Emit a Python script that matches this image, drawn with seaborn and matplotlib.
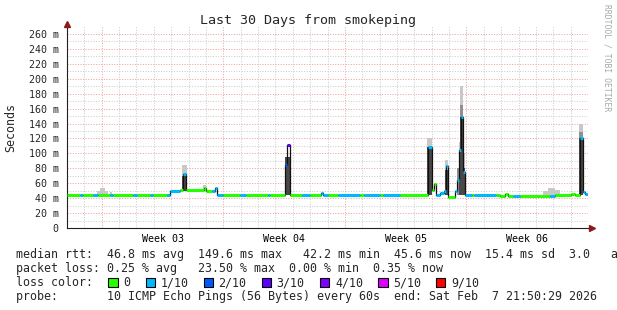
import numpy as np
import pandas as pd
import matplotlib
matplotlib.use("Agg")
import matplotlib.pyplot as plt
from matplotlib.patches import Rectangle
import seaborn as sns

# ---------------- data (x in days since graph start, y in ms) ----------------
seg_start = [0.000, 0.748, 0.921, 1.497, 1.785, 2.476, 2.648, 3.800, 4.030, 4.778,
             4.951, 5.757, 5.958, 6.505, 6.678, 6.851, 7.887, 8.002, 8.348, 8.521,
             8.664, 8.981, 9.960, 10.30, 11.572, 11.687, 12.550, 12.694, 12.867, 13.529,
             13.990, 14.623, 14.738, 15.000, 15.600, 16.870, 17.100, 18.000, 18.200, 19.171,
             20.783, 21.013, 21.128, 21.244, 21.474, 21.704, 21.819, 21.934, 22.337, 22.453,
             22.568, 22.683, 22.798, 22.913, 23.300, 23.420, 24.700, 24.928, 25.216, 25.400,
             25.676, 26.079, 27.806, 28.094, 29.000, 29.250, 29.533, 29.706, 29.821]
seg_rtt = [44, 44, 44, 44, 44, 44, 44, 44, 44, 44,
           44, 44, 50, 51, 73, 51, 53, 50, 50, 54,
           44, 44, 44, 44, 44, 44, 84, 111, 44, 44,
           44, 47, 44, 44, 44, 44, 44, 44, 44, 44,
           108, 51, 59, 44, 47, 50, 83, 42, 50, 64,
           104, 149, 75, 44, 44, 44, 44, 43, 46, 43,
           43, 43, 43, 44, 46, 44, 120, 48, 46]
seg_loss = [0, 1, 0, 1, 0, 1, 0, 1, 0, 1,
            0, 1, 1, 0, 1, 0, 0, 0, 1, 1,
            1, 0, 1, 0, 1, 0, 2, 3, 0, 1,
            0, 1, 1, 0, 1, 0, 1, 0, 1, 0,
            1, 0, 0, 1, 1, 1, 1, 0, 1, 1,
            1, 1, 1, 1, 0, 1, 0, 0, 0, 0,
            1, 0, 1, 0, 0, 0, 1, 1, 1]
END_DAY = 30.0

# smoke (ping spread) patches: shade 0 light, 1 mid, 2 dark
smoke_start = [1.73, 1.90, 2.19, 2.48, 6.62, 6.62, 7.83, 12.55, 20.73, 20.73,
               21.76, 21.76, 22.45, 22.57, 22.57, 22.63, 22.63, 22.63, 22.80, 22.80,
               27.40, 27.70, 28.10, 29.50, 29.50, 29.50]
smoke_end = [1.90, 2.19, 2.36, 2.60, 6.91, 6.91, 8.00, 12.87, 21.01, 21.01,
             21.93, 21.93, 22.57, 22.68, 22.68, 22.80, 22.80, 22.80, 22.91, 22.91,
             27.70, 28.10, 28.40, 29.70, 29.70, 29.70]
smoke_lo = [44, 44, 44, 44, 50, 50, 50, 44, 44, 44,
            44, 44, 44, 44, 44, 44, 44, 44, 44, 44,
            43, 43, 43, 44, 44, 44]
smoke_hi = [49, 53, 50, 48, 84, 70, 57, 95, 120, 108,
            91, 78, 80, 115, 104, 190, 165, 149, 100, 80,
            50, 54, 51, 139, 128, 120]
smoke_shade = [0, 0, 0, 0, 0, 2, 0, 2, 0, 2,
               0, 2, 1, 0, 2, 0, 1, 2, 0, 2,
               0, 0, 0, 0, 1, 2]
shade_colors = ["#c8c8c8", "#909090", "#484848"]

loss_labels = ["0", "1/10", "2/10", "3/10", "4/10", "5/10", "9/10"]
loss_colors = ["#26ff00", "#00b8ff", "#0059ff", "#5e00ff", "#7e00ff", "#dd00ff", "#ff0000"]

y_ticks = list(range(0, 261, 20))
y_tick_labels = ["0"] + [f"{v} m" for v in y_ticks[1:]]
y_minor = [v for v in range(10, 270, 10) if v % 20 != 0]
week_bounds = [2, 9, 16, 23, 30]
day_ticks = [d for d in range(1, 30) if d not in week_bounds]
week_centers = [5.5, 12.5, 19.5, 26.5]
week_labels = ["Week 03", "Week 04", "Week 05", "Week 06"]

title = "Last 30 Days from smokeping"
row_median = "median rtt:  46.8 ms avg  149.6 ms max   42.2 ms min  45.6 ms now  15.4 ms sd  3.0   am/s"
row_loss = "packet loss: 0.25 % avg   23.50 % max  0.00 % min  0.35 % now"
row_color = "loss color:"
row_probe = "probe:       10 ICMP Echo Pings (56 Bytes) every 60s  end: Sat Feb  7 21:50:29 2026"

# ---------------- style ----------------
sns.set_style("white")
plt.rcParams["font.family"] = ["DejaVu Sans Mono", "DejaVu Sans"]

W, H = 617, 310
fig = plt.figure(figsize=(W / 100, H / 100), dpi=100)
fig.patch.set_facecolor("white")
L, R, T, B = 67, 588, 26, 228
ax = fig.add_axes([L / W, 1 - B / H, (R - L) / W, (B - T) / H])
ax.set_facecolor("white")
ax.set_xlim(0, END_DAY)
ax.set_ylim(0, 202 / (194 / 260))

# grid
ax.set_xticks(week_bounds)
ax.set_xticks(day_ticks, minor=True)
ax.set_yticks(y_ticks)
ax.set_yticks(y_minor, minor=True)
dot = (0, (1, 1.6))
ax.grid(which="minor", color="#cccccc", linestyle=dot, linewidth=0.72)
ax.grid(which="major", color="#f49c9c", linestyle=dot, linewidth=0.72)
ax.set_axisbelow(True)

ax.set_xticklabels([""] * len(week_bounds))
ax.set_yticklabels(y_tick_labels, fontsize=7.2)
ax.tick_params(axis="x", which="both", length=0)
ax.tick_params(axis="y", which="major", length=1.5, color="#f08080", pad=4.5)
ax.tick_params(axis="y", which="minor", length=1.5, color="#c4c4c4")

for s in ["top", "right"]:
    ax.spines[s].set_visible(False)
for s in ["left", "bottom"]:
    ax.spines[s].set_color("#202020")
    ax.spines[s].set_linewidth(0.8)

# smoke
order = np.argsort(smoke_shade, kind="stable")
for i in order:
    ax.bar(smoke_start[i], smoke_hi[i] - smoke_lo[i], width=smoke_end[i] - smoke_start[i],
           bottom=smoke_lo[i], align="edge", color=shade_colors[smoke_shade[i]],
           linewidth=0, zorder=2)

# median: thin dark step line + thick loss-colored segments
df = pd.DataFrame({"day": seg_start + [END_DAY], "rtt": seg_rtt + [seg_rtt[-1]]})
sns.lineplot(data=df, x="day", y="rtt", ax=ax, color="#101010", linewidth=0.9,
             drawstyle="steps-post", estimator=None, sort=False, zorder=3)
seg_end = seg_start[1:] + [END_DAY]
ax.hlines(seg_rtt, seg_start, seg_end, colors=[loss_colors[l] for l in seg_loss],
          linewidth=2.2, zorder=4, capstyle="butt")
ax.set_xlabel("")
ax.set_ylabel("")

# week labels
for xc, lab in zip(week_centers, week_labels):
    ax.text(xc, -13.5 / 202, lab, transform=ax.get_xaxis_transform(), ha="center",
            va="baseline", fontsize=7.2, color="#000000")

# axis arrows
ax.plot([0], [1 + 2 / 202], marker="^", ms=4.5, color="#8b1a1a", transform=ax.transAxes,
        clip_on=False, zorder=5)
ax.plot([1 + 4 / 521], [0], marker=">", ms=4.5, color="#8b1a1a", transform=ax.transAxes,
        clip_on=False, zorder=5)


def fx(px):
    return px / W


def fy(py):
    return 1 - py / H


fig.text(fx(308), fy(24), title, ha="center", va="baseline", fontsize=9.6)
fig.text(fx(11), fy(127), "Seconds", rotation=90, ha="center", va="center", fontsize=8.4)
fig.text(fx(607), fy(58), "RRDTOOL / TOBI OETIKER", rotation=270, ha="center", va="center",
         fontsize=5.8, color="#a8a8a8")

fs = 8.4
fig.text(fx(16), fy(258), row_median, ha="left", va="baseline", fontsize=fs)
fig.text(fx(16), fy(272), row_loss, ha="left", va="baseline", fontsize=fs)
fig.text(fx(16), fy(286), row_color, ha="left", va="baseline", fontsize=fs)
fig.text(fx(16), fy(300), row_probe, ha="left", va="baseline", fontsize=fs)

sq_x = [108, 145.5, 203.5, 261.5, 320, 378, 436]
for xs, c, lab in zip(sq_x, loss_colors, loss_labels):
    fig.add_artist(Rectangle((fx(xs), fy(287)), 9.5 / W, 9.5 / H, transform=fig.transFigure,
                             facecolor=c, edgecolor="black", linewidth=0.8))
    fig.text(fx(xs + 15), fy(286), lab, ha="left", va="baseline", fontsize=fs)

fig.savefig("out.png", dpi=100, facecolor="white")
